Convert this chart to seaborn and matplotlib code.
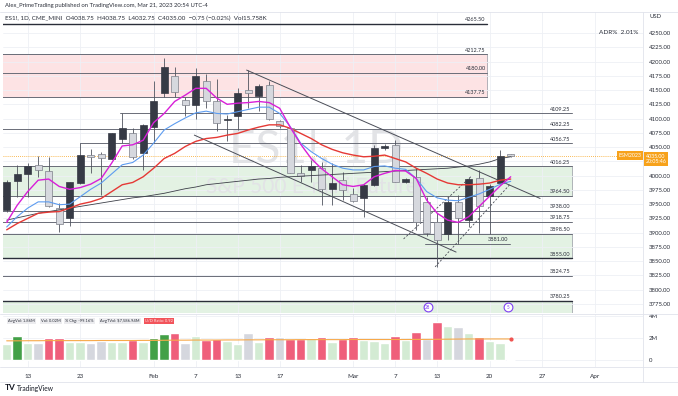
import matplotlib
matplotlib.use("Agg")
import matplotlib.pyplot as plt
import seaborn as sns
import pandas as pd
from matplotlib.patches import Rectangle
from matplotlib.lines import Line2D

# daily bars ES1!, Jan 11 .. Mar 22 2023 (x = bar number)
opens = [3940, 3991, 4002, 4018, 4008, 3944, 3925, 3987, 4036, 4038,
         4030, 4065, 4075, 4039, 4086, 4145, 4175, 4132, 4124, 4166,
         4131, 4097, 4104, 4150, 4140, 4158, 4095, 4083, 4005, 4010,
         4014, 3976, 3992, 3968, 3960, 3984, 4048, 4054, 3989, 3997,
         3953, 3919, 3898, 3953, 3923, 3995, 3964, 3987, 4038.75]
highs = [3993, 4019, 4022, 4034, 4033, 3952, 3989, 4057, 4047, 4041,
         4075, 4109, 4083, 4090, 4165, 4207, 4191, 4138, 4188, 4179,
         4169, 4106, 4153, 4186, 4160, 4165, 4098, 4086, 4019, 4027,
         4024, 4022, 4007, 3978, 3986, 4054, 4056, 4063, 3996, 4013,
         3963, 3935, 3962, 3966, 3998, 4010, 3985, 4045, 4038.75]
lows = [3936, 3963, 3963, 3998, 3945, 3902, 3912, 3985, 4005, 3966,
        4029, 4057, 4030, 4009, 4057, 4138, 4138, 4105, 4100, 4118,
        4079, 4061, 4080, 4118, 4114, 4097, 4083, 4004, 3989, 3989,
        3948, 3948, 3957, 3954, 3928, 3981, 4045, 3988, 3987, 3905,
        3894, 3840, 3887, 3881, 3910, 3899, 3898, 3985, 4032.75]
closes = [3989, 4003, 4017, 4010, 3946, 3915, 3988, 4036, 4032, 4031,
          4074, 4083, 4032, 4089, 4131, 4190, 4147, 4124, 4175, 4130,
          4092, 4099, 4145, 4144, 4157, 4099, 4087, 4005, 3999, 4017,
          3976, 3987, 3975, 3956, 3984, 4049, 4052, 3989, 3994, 3919,
          3899, 3888, 3953, 3925, 3994, 3946, 3982, 4035, 4035.00]

ma_fast = [3918, 3948, 3972, 3992, 3994, 3981, 3976, 3979, 3985, 3995,
           4022, 4052, 4054, 4062, 4093, 4109, 4130, 4141, 4153, 4153,
           4136, 4125, 4127, 4128, 4130, 4128, 4118, 4085, 4055, 4030,
           4012, 3998, 3984, 3981, 3984, 3998, 4004, 4009, 4008, 3995,
           3957, 3934, 3922, 3918, 3928, 3946, 3964, 3982, 3998]
ma_mid = [3910, 3928, 3943, 3954, 3954, 3949, 3950, 3963, 3976, 3987,
          4003, 4019, 4023, 4036, 4057, 4080, 4091, 4101, 4110, 4113,
          4109, 4108, 4112, 4116, 4120, 4120, 4109, 4086, 4057, 4042,
          4030, 4020, 4013, 4010, 4010, 4016, 4017, 4013, 4011, 3995,
          3972, 3961, 3957, 3956, 3962, 3968, 3976, 3985, 3990]
ma_slow = [3905, 3916, 3925, 3934, 3936, 3937, 3943, 3950, 3954, 3960,
           3972, 3984, 3988, 3998, 4013, 4030, 4039, 4051, 4060, 4065,
           4067, 4071, 4074, 4080, 4085, 4089, 4089, 4083, 4074, 4065,
           4054, 4046, 4040, 4036, 4033, 4034, 4036, 4030, 4024, 4013,
           4004, 3994, 3987, 3984, 3984, 3985, 3987, 3992, 3994]
ma_long = [3922, 3926, 3930, 3934, 3937, 3940, 3943, 3946, 3949, 3952,
           3955, 3958, 3961, 3963, 3966, 3969, 3973, 3977, 3980, 3984,
           3986, 3988, 3990, 3992, 3994, 3995, 3997, 3998, 3999, 4000,
           4001, 4002, 4003, 4004, 4005, 4006, 4007, 4008, 4009, 4010,
           4011, 4012, 4013, 4015, 4017, 4020, 4024, 4030, 4033]

# volume in millions, with the colour class TradingView gave each bar
volume_m = [1.43, 2.18, 1.52, 1.52, 1.97, 1.97, 1.66, 1.66, 1.52, 1.75,
            1.66, 1.66, 1.82, 1.66, 2.03, 2.36, 2.43, 1.57, 2.21, 1.82,
            1.88, 1.75, 1.43, 2.43, 1.66, 2.06, 2.06, 1.91, 1.88, 1.97,
            2.12, 1.66, 1.91, 2.06, 1.82, 1.73, 1.57, 2.21, 1.82, 2.57,
            1.91, 3.48, 3.09, 2.97, 2.48, 2.12, 1.75, 1.52, 0.02]
vol_kind = ["l", "g", "l", "n", "r", "r", "l", "l", "n", "n",
            "l", "l", "r", "l", "g", "g", "r", "n", "l", "r",
            "r", "l", "l", "n", "l", "r", "n", "r", "r", "l",
            "r", "l", "r", "r", "l", "l", "l", "r", "l", "r",
            "n", "r", "l", "n", "l", "r", "l", "l", "l"]
vol_avg_m = [1.74, 1.74, 1.75, 1.75, 1.76, 1.76, 1.76, 1.76, 1.76, 1.77,
             1.77, 1.77, 1.77, 1.78, 1.78, 1.79, 1.80, 1.80, 1.81, 1.81,
             1.81, 1.82, 1.82, 1.83, 1.83, 1.84, 1.84, 1.84, 1.85, 1.85,
             1.85, 1.85, 1.85, 1.86, 1.86, 1.86, 1.86, 1.86, 1.86, 1.87,
             1.87, 1.88, 1.89, 1.90, 1.91, 1.91, 1.91, 1.91, 1.91]

date_ticks = [2, 7, 14, 18, 22, 26, 33, 37, 41, 46, 51, 56]
date_labels = ["13", "23", "Feb", "7", "13", "17", "Mar", "7", "13", "20", "27", "Apr"]
price_ticks = [3775, 3800, 3825, 3850, 3875, 3900, 3925, 3950, 3975, 4000,
               4025, 4050, 4075, 4100, 4125, 4150, 4175, 4200, 4225, 4250]
hidden_tick = 4025  # covered by the last-price label

# horizontal levels: price, first bar, last bar
level_prices = [4265.50, 4212.75, 4180.00, 4137.75, 4109.25, 4082.25, 4056.75, 4016.25,
                3964.50, 3938.00, 3918.75, 3898.50, 3881.00, 3855.00, 3824.75, 3780.25]
level_starts = [-0.4, -0.4, -0.4, -0.4, 10.8, -0.4, 7, -0.4,
                -0.4, -0.4, -0.4, -0.4, 39.8, -0.4, -0.4, -0.4]
level_ends = [45.75, 45.75, 45.75, 45.75, 53.8, 53.8, 53.8, 53.8,
              53.8, 53.8, 53.8, 53.8, 47.9, 53.8, 53.8, 53.8]
level_bold = [4265.50, 3855.00, 3780.25]

# zones: low, high, last bar, colour
zones = [(4137.75, 4212.75, 45.75, "#fde3e4"),
         (3964.50, 4016.25, 53.8, "#e3f2e3"),
         (3855.00, 3898.50, 53.8, "#e3f2e3"),
         (3700.00, 3780.25, 53.8, "#e3f2e3")]

# drawn trend lines: (x0, y0, x1, y1)
channel_lines = [(22.85, 4185, 50.8, 3960), (17.87, 4071, 42.8, 3866)]
dashed_lines = [(37.8, 3889, 44.2, 3998), (40.8, 3840, 47.9, 3984)]

sns.set_style("white")
plt.rcParams["font.family"] = ["Lato", "DejaVu Sans"]

W, H = 678, 396
def fx(px):
    return px / W
def fy(py):
    return 1 - py / H

fig = plt.figure(figsize=(6.78, 3.96), dpi=100)
ax = fig.add_axes([fx(3), fy(313), fx(643) - fx(3), fy(12) - fy(313)])
axv = fig.add_axes([fx(3), fy(367), fx(643) - fx(3), fy(314) - fy(367)])

bars = list(range(len(closes)))
grid_c = "#eef0f5"

# price pane
ax.set_xlim(-0.35, 60.6)
ax.set_ylim(3759.2, 4286.8)
ax.set_xticks(date_ticks)
ax.set_yticks(price_ticks)
ax.set_yticklabels(["" if p == hidden_tick else f"{p:.2f}" for p in price_ticks])
ax.yaxis.tick_right()
ax.tick_params(axis="y", length=0, pad=4, labelsize=4.3, labelcolor="#2a2e39")
ax.tick_params(axis="x", length=0, labelbottom=False)
ax.grid(True, color=grid_c, lw=0.6, zorder=0)
for s in ax.spines.values():
    s.set_visible(False)

ax.text(29.5, 4046, "ES1!, 1D", fontsize=33, color="#e2e3e6", ha="center", va="center", zorder=0.6)
ax.text(29.5, 3980, "S&P 500 E-mini Futures", fontsize=15, color="#e2e3e6", ha="center", va="center", zorder=0.6)

for lo, hi, end, col in zones:
    ax.add_patch(Rectangle((-0.4, lo), end + 0.4, hi - lo, facecolor=col,
                           edgecolor="#9598a1", lw=0.5, zorder=0.5))

for p, x0, x1 in zip(level_prices, level_starts, level_ends):
    bold = p in level_bold
    ax.plot([x0, x1], [p, p], color="#2a2e39" if bold else "#6a6d78",
            lw=1.0 if bold else 0.7, zorder=1)
    ax.annotate(f"{p:.2f}", (x1, p), xytext=(-1, 1.2), textcoords="offset points",
                ha="right", va="bottom", fontsize=4, color="#2a2e39", zorder=5)

ax.axhline(4035, color="#f7a21b", lw=0.6, ls=(0, (1, 1.5)), zorder=1)

for x0, y0, x1, y1 in channel_lines:
    ax.plot([x0, x1], [y0, y1], color="#4a4d57", lw=0.7, zorder=2)
for x0, y0, x1, y1 in dashed_lines:
    ax.plot([x0, x1], [y0, y1], color="#4a4d57", lw=0.6, ls=(0, (2.5, 2)), zorder=2)

# candles
up_c, down_c, edge_down = "#363a45", "#d6d8de", "#7c7f89"
ax.vlines(bars, lows, highs, color="#50535e", lw=0.6, zorder=3)
for i in bars:
    o, c = opens[i], closes[i]
    up = c >= o
    ax.bar(i, max(abs(c - o), 1.3), bottom=min(o, c), width=0.68,
           color=up_c if up else down_c, edgecolor=up_c if up else edge_down,
           lw=0.5, zorder=3.5)

sns.lineplot(x=bars, y=ma_long, ax=ax, color="#3c3f48", lw=0.6, zorder=3.6)
sns.lineplot(x=bars, y=ma_slow, ax=ax, color="#e53935", lw=1.0, zorder=3.7)
sns.lineplot(x=bars, y=ma_mid, ax=ax, color="#5d9cf0", lw=0.8, zorder=3.8)
sns.lineplot(x=bars, y=ma_fast, ax=ax, color="#d81fd8", lw=1.0, zorder=3.9)
ax.set_xlabel("")
ax.set_ylabel("")

# event markers
for xm, lab in [(40.1, "28"), (47.75, "5")]:
    ax.scatter([xm], [3769.5], s=40, facecolor="white", edgecolor="#7e3ff2", lw=0.8, zorder=6)
    ax.text(xm, 3769.5, lab, fontsize=3.3, color="#7e3ff2", ha="center", va="center", zorder=7)

# volume pane
vol_df = pd.DataFrame({"bar": bars, "vol": volume_m, "kind": vol_kind})
vol_palette = {"g": "#43a047", "r": "#ef5f7b", "l": "#d3ebd3", "n": "#d5d7de"}
sns.barplot(data=vol_df, x="bar", y="vol", hue="kind", palette=vol_palette,
            native_scale=True, dodge=False, width=0.9, saturation=1,
            legend=False, ax=axv, zorder=2)
sns.lineplot(x=bars, y=vol_avg_m, ax=axv, color="#f7a94a", lw=0.8, zorder=3)
axv.scatter([bars[-1]], [vol_avg_m[-1]], s=4, color="#ef5350", zorder=4)
axv.set_xlim(-0.35, 60.6)
axv.set_ylim(-0.64, 4.18)
axv.set_xlabel("")
axv.set_ylabel("")
axv.set_xticks(date_ticks)
axv.set_xticklabels(date_labels)
axv.set_yticks([0, 2, 4])
axv.set_yticklabels(["0", "2M", "4M"])
axv.yaxis.tick_right()
axv.tick_params(axis="y", length=0, pad=4, labelsize=4.3, labelcolor="#2a2e39")
axv.tick_params(axis="x", length=0, pad=5, labelsize=4.5, labelcolor="#2a2e39")
axv.grid(True, color=grid_c, lw=0.6, zorder=0)
for s in axv.spines.values():
    s.set_visible(False)

# indicator info boxes
info = [("AvgVol: 1.86M", 8, "#ececef", "#2a2e39"),
        ("Vol: 0.02M", 41, "#ececef", "#2a2e39"),
        ("% Chg: -99.16%", 65, "#ececef", "#2a2e39"),
        ("AvgTVol: $7,586.94M", 100, "#ececef", "#2a2e39"),
        ("U/D Ratio: 0.92", 145, "#f2545b", "#fde8e8")]
for txt, px, bg, fg in info:
    fig.text(fx(px), fy(321), txt, fontsize=2.9, color=fg, va="center", ha="left",
             bbox=dict(boxstyle="square,pad=0.35", fc=bg, ec="none"))

# frame lines
for coords in [([0, 1], [fy(12), fy(12)]),
               ([fx(643), fx(643)], [fy(12), fy(382)]),
               ([0, 1], [fy(313.5), fy(313.5)]),
               ([0, 1], [fy(367), fy(367)]),
               ([0, 1], [fy(382), fy(382)])]:
    fig.add_artist(Line2D(coords[0], coords[1], color="#e0e3eb", lw=0.6))

# header and labels
fig.text(fx(5), fy(5.5), "Alex_PrimeTrading published on TradingView.com, Mar 21, 2023 20:54 UTC-4",
         fontsize=4.2, color="#2a2e39", va="center")
fig.text(fx(5), fy(18), "ES1!, 1D, CME_MINI  O4038.75  H4038.75  L4032.75  C4035.00  \u22120.75 (\u22120.02%)  Vol15.758K",
         fontsize=4.5, color="#2a2e39", va="center")
fig.text(fx(650), fy(17), "USD", fontsize=4.3, color="#2a2e39", va="center")
fig.text(fx(638), fy(33), "ADR%  2.01%", fontsize=4.6, color="#2a2e39", va="center", ha="right")
fig.text(fx(641), fy(155.5), "ESM2023", fontsize=3.8, color="white", va="center", ha="right",
         bbox=dict(boxstyle="square,pad=0.3", fc="#f7a21b", ec="none"))
fig.text(fx(646), fy(159), "4035.00\n20:05:46", fontsize=3.8, color="white", va="center", ha="left",
         linespacing=1.0, bbox=dict(boxstyle="square,pad=0.3", fc="#f7a21b", ec="none"))
fig.text(fx(5), fy(388), "TV", fontsize=6, weight="bold", color="#131722", va="center")
fig.text(fx(17), fy(388), "TradingView", fontsize=4.8, color="#131722", va="center")

fig.savefig("out.png", dpi=100)
